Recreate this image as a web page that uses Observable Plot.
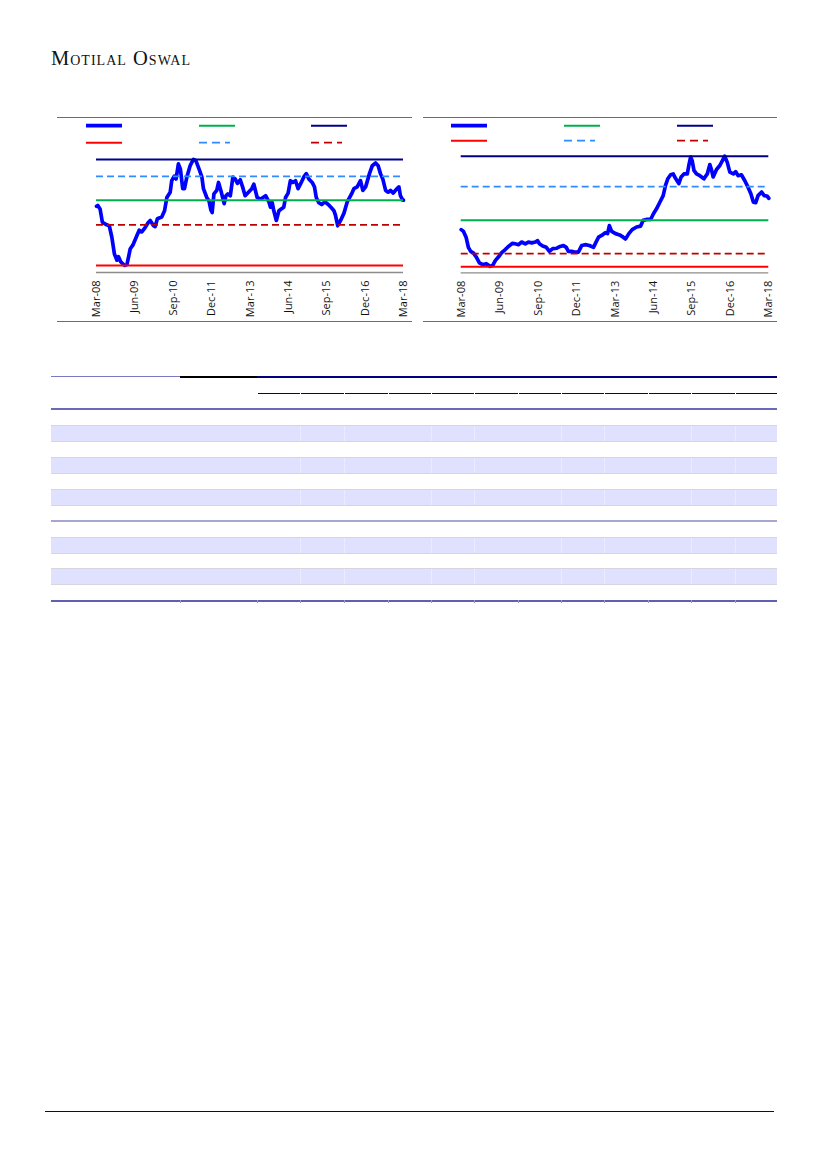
<!DOCTYPE html>
<html><head><meta charset="utf-8">
<script src="https://cdn.jsdelivr.net/npm/d3@7"></script>
<script src="https://cdn.jsdelivr.net/npm/@observablehq/plot@0.6"></script>
<style>
html,body{margin:0;padding:0;background:#fff;}
body{width:827px;height:1169px;position:relative;overflow:hidden;font-family:"Open Sans",sans-serif;}
.abs{position:absolute;}
</style></head><body>
<script>
// ---------- DATA ----------
const tickMonths = [0, 15, 30, 45, 60, 75, 90, 105, 120];
const tickLabels = ["Mar-08", "Jun-09", "Sep-10", "Dec-11", "Mar-13", "Jun-14", "Sep-15", "Dec-16", "Mar-18"];
const levelNames = ["Max", "+1SD", "Avg", "-1SD", "Min"];
const leftLevels = [22.0, 20.1, 17.4, 14.6, 10.0];
const rightLevels = [4.0, 3.31, 2.55, 1.80, 1.50];
const leftSeries = [[0,16.7],[0.5,16.8],[1.4,16.4],[2.3,14.9],[4,14.6],[5,14.5],[6,13.2],[7,11.3],[8,10.6],[8.6,11.0],[9.5,10.4],[11,10.0],[11.9,10.1],[13.2,11.9],[14.2,12.3],[15.8,13.4],[16.7,14.0],[17.7,13.8],[19,14.3],[20.3,14.9],[21,15.1],[22.3,14.5],[22.9,14.4],[23.8,15.3],[25.5,15.5],[26.6,16.2],[27.5,17.7],[28.8,18.3],[29.4,19.6],[30.4,20.1],[31.1,19.8],[32,21.5],[32.8,20.9],[33.7,18.7],[34.4,18.7],[35.3,20.0],[36.6,21.3],[37.9,22.0],[38.8,21.9],[40.1,20.9],[41.2,20.0],[41.8,18.7],[43.1,17.7],[44,17.3],[44.7,16.3],[45.2,16.0],[45.9,18.1],[47,18.5],[47.7,19.4],[48.6,18.5],[49.3,17.7],[49.9,17.0],[50.6,17.9],[51.3,18.1],[52.3,17.9],[53.3,20.0],[54.2,19.8],[55.1,19.3],[56.2,19.7],[57.1,18.9],[58.1,17.9],[59.4,18.3],[60.7,18.7],[61.5,19.2],[62.8,17.7],[64.1,17.5],[66.1,17.9],[67.4,17.2],[68,16.6],[68.7,17.1],[69.3,16.2],[70.3,15.1],[71.3,16.2],[72.2,16.4],[73.2,16.6],[73.9,17.7],[74.9,18.2],[75.8,19.6],[76.7,19.4],[77.8,19.6],[78.8,18.7],[79.7,19.2],[81,20.0],[82,20.4],[83,19.8],[84.3,19.4],[85.2,18.9],[85.9,17.7],[86.9,17.1],[88,16.9],[89.3,17.2],[90.6,16.9],[91.9,16.5],[92.8,16.2],[93.4,15.7],[94.3,14.5],[95.4,15.1],[96.7,15.9],[97.4,16.6],[98,17.2],[99.7,18.1],[100.6,18.7],[101.9,18.9],[103.2,19.6],[104.1,18.5],[105.2,18.9],[106.7,20.4],[107.8,21.3],[109.1,21.6],[110.1,21.3],[111,20.4],[111.9,19.8],[113,18.5],[114,18.3],[114.9,18.5],[116,18.2],[117.1,18.6],[118.2,18.9],[118.8,17.9],[119.7,17.4],[120,17.4]];
const rightSeries = [[0,2.34],[0.9,2.30],[1.9,2.17],[2.8,1.94],[3.7,1.85],[4.8,1.81],[5.9,1.72],[7.1,1.59],[8.4,1.55],[9.8,1.57],[11.3,1.51],[12.3,1.53],[13.3,1.64],[14.5,1.72],[15.8,1.82],[17.2,1.89],[18.4,1.96],[20,2.03],[21.1,2.02],[22.3,2.00],[23.6,2.06],[25,2.02],[26.2,2.06],[27.5,2.04],[28.9,2.06],[29.8,2.09],[30.5,2.02],[31.8,1.97],[33.2,1.94],[34.4,1.85],[35.7,1.91],[37.3,1.92],[38.6,1.96],[39.9,1.98],[41,1.94],[41.8,1.85],[43.1,1.85],[44.5,1.83],[45.7,1.83],[47,1.98],[48.4,2.00],[50,1.98],[51.6,1.94],[52.7,2.07],[53.6,2.17],[54.8,2.21],[56.2,2.27],[57.1,2.25],[57.8,2.43],[58.7,2.30],[60.2,2.25],[61.8,2.22],[63.2,2.17],[64.1,2.13],[65.4,2.25],[66.7,2.34],[68.4,2.40],[70,2.42],[71,2.55],[72.3,2.57],[73.9,2.57],[75,2.70],[76.2,2.81],[77.5,2.96],[78.8,3.11],[79.7,3.34],[80.6,3.49],[81.7,3.58],[82.7,3.60],[83.6,3.50],[84.9,3.38],[85.8,3.53],[86.9,3.60],[88.2,3.60],[88.8,3.79],[89.5,3.98],[90.1,3.90],[90.8,3.68],[91.8,3.60],[93.1,3.56],[94.7,3.49],[96,3.60],[97,3.81],[97.7,3.68],[98.3,3.53],[99.6,3.70],[100.9,3.79],[101.9,3.90],[102.8,4.00],[103.8,3.86],[104.8,3.64],[106.2,3.60],[107.1,3.65],[108,3.56],[109.3,3.58],[110.6,3.45],[111.9,3.30],[113,3.15],[114,2.96],[114.9,2.95],[115.8,3.11],[117.2,3.19],[118.2,3.11],[119.3,3.10],[120,3.05]];

// ---------- STYLES ----------
const levelStyles = [
  {stroke: "#00008B", strokeWidth: 2},
  {stroke: "#2F8CFF", strokeWidth: 1.8, strokeDasharray: "7,4"},
  {stroke: "#00B050", strokeWidth: 2},
  {stroke: "#C00000", strokeWidth: 1.8, strokeDasharray: "7,4"},
  {stroke: "#FF0000", strokeWidth: 2}
];
const seriesColor = "#0000FF";
const frameColor = "#6464B4";

function add(el, css) { Object.assign(el.style, css); el.classList.add("abs"); document.body.appendChild(el); return el; }
function box(left, top, width, height, bg) {
  const d = document.createElement("div");
  return add(d, {left: left + "px", top: top + "px", width: width + "px", height: height + "px", background: bg});
}

// Logo
const logo = document.createElementNS("http://www.w3.org/2000/svg", "svg");
logo.setAttribute("width", 200); logo.setAttribute("height", 40);
logo.innerHTML = '<text x="1" y="25" font-family="Liberation Serif, serif" font-size="20.5" style="font-variant:small-caps" fill="#111" textLength="139" lengthAdjust="spacing">Motilal Oswal</text>';
add(logo, {left: "50px", top: "40px"});

// Panels
function panel(px, pw, series, levels, cfg) {
  box(px, 116.5, pw, 1.5, frameColor);
  box(px, 320.5, pw, 1.5, frameColor);
  // legend (labels are blank in the reference)
  const lg = document.createElementNS("http://www.w3.org/2000/svg", "svg");
  lg.setAttribute("width", pw); lg.setAttribute("height", 30);
  const lx = cfg.legX;
  const rows = [cfg.legY1, cfg.legY2];
  const items = [
    {x: lx[0], y: rows[0], stroke: seriesColor, w: 3.8, len: 36},
    {x: lx[1], y: rows[0], ...levelStyles[2], len: 36},
    {x: lx[2], y: rows[0], ...levelStyles[0], len: 36},
    {x: lx[0], y: rows[1], ...levelStyles[4], len: 36},
    {x: lx[1], y: rows[1], ...levelStyles[1], len: 31},
    {x: lx[2], y: rows[1], ...levelStyles[3], len: 31}
  ];
  lg.innerHTML = items.map(it => `<line x1="${it.x}" x2="${it.x + it.len}" y1="${it.y}" y2="${it.y}" stroke="${it.stroke}" stroke-width="${it.w || it.strokeWidth}" ${it.strokeDasharray ? `stroke-dasharray="8,5"` : ""}/>`).join("");
  add(lg, {left: px + "px", top: "115px"});

  const data = series.map(([m, v]) => ({m, v}));
  const marks = [
    Plot.ruleY([cfg.domain[0]], {stroke: "#8c8c8c", strokeWidth: 1.3}),
    Plot.line(data, {x: "m", y: "v", stroke: seriesColor, strokeWidth: 3.7, curve: "linear", strokeLinejoin: "round"}),
    ...levels.map((lv, i) => Plot.ruleY([lv], levelStyles[i])),
    Plot.axisX({ticks: tickMonths, tickFormat: d => tickLabels[tickMonths.indexOf(d)], tickRotate: -90, tickSize: 0, tickPadding: 8, fontSize: 11, label: null, fill: "#111"})
  ];
  const chart = Plot.plot({
    width: pw, height: cfg.height,
    marginLeft: cfg.marginLeft, marginRight: cfg.marginRight, marginTop: cfg.marginTop, marginBottom: cfg.marginBottom,
    x: {domain: [0, 120], label: null},
    y: {domain: cfg.domain, axis: null, label: null},
    style: {fontFamily: "'Open Sans', sans-serif", color: "#111", background: "transparent", overflow: "visible"},
    marks
  });
  add(chart, {left: px + "px", top: cfg.top + "px"});
}

panel(57, 355, leftSeries, leftLevels, {
  top: 150, height: 170, marginTop: 7, marginBottom: 48, marginLeft: 39, marginRight: 9,
  domain: [9.2075, 22.226],
  legX: [29, 142, 254], legY1: 10.7, legY2: 27.7
});
panel(423, 354, rightSeries, rightLevels, {
  top: 146, height: 174.3, marginTop: 7, marginBottom: 48, marginLeft: 37.7, marginRight: 8.7,
  domain: [1.3644, 4.061],
  legX: [28, 141, 254], legY1: 10.7, legY2: 25.7
});

// ---------- TABLE (blank, as in reference) ----------
const colX = [51, 180, 257, 300, 344, 388, 431, 474, 518, 561, 604, 648, 691, 735, 777];
box(51, 376, 129, 1.2, "#7a7ac4");
box(180, 375.5, 77, 2, "#000");
box(257, 375.5, 520, 2, "#000080");
for (let i = 2; i < colX.length - 1; i++) box(colX[i] + 0.5, 392.5, colX[i + 1] - colX[i] - 1, 1.5, "#000080");
box(51, 408, 726, 1.8, "#6a6ab8");
const shaded = [425, 457, 489, 537, 568];
shaded.forEach(y => {
  box(51, y, 726, 16, "#E0E0FF");
  box(51, y, 726, 1, "#d6d6dc");
  box(51, y + 16, 726, 1, "#d6d6dc");
  [300, 344, 431, 474, 561, 604, 691, 735].forEach(x => box(x, y + 1, 1, 15, "#ececff"));
});
box(51, 519.5, 726, 2, "#a6a6d0");
box(51, 600, 726, 1.6, "#6060b0");
colX.slice(1, -1).forEach(x => box(x, 600, 1, 3, "#9a9ac8"));

// footer rule
box(45, 1110.5, 729, 1.5, "#111");
</script>
</body></html>
